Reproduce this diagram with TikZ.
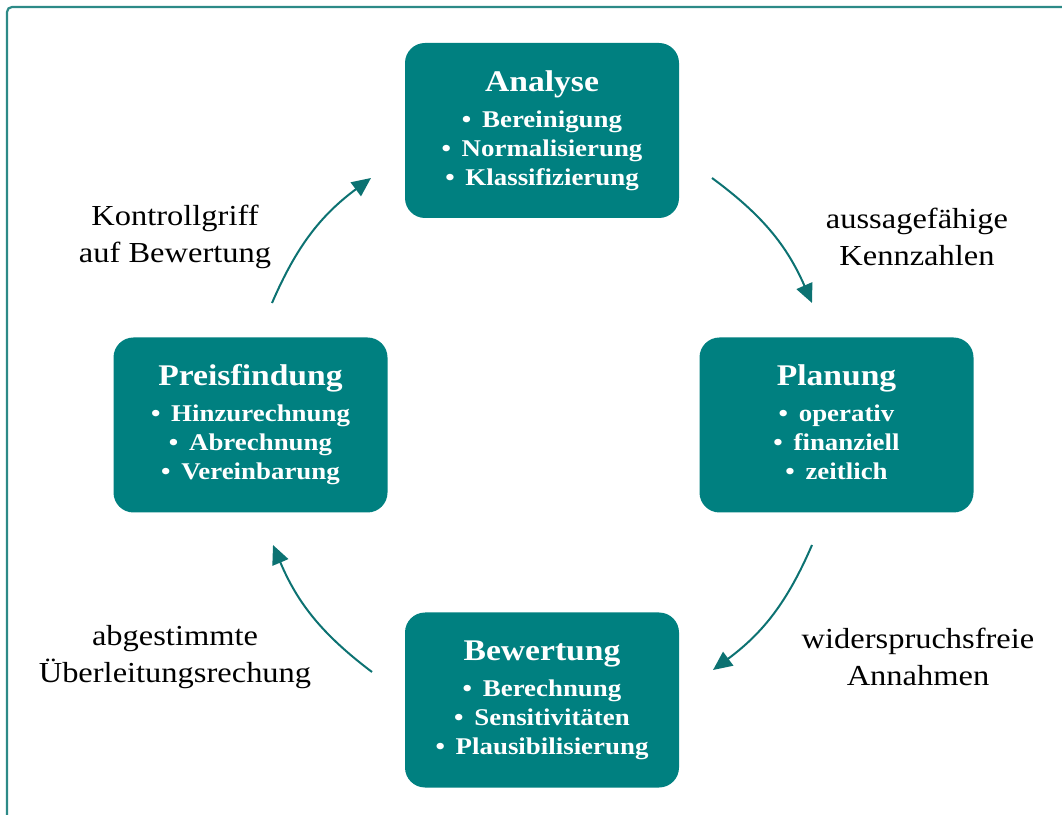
\documentclass[tikz,border=0pt]{standalone}
\usepackage{fontspec}
\setmainfont{Liberation Serif}[FakeStretch=1.12]
\usetikzlibrary{arrows.meta}

\definecolor{boxteal}{RGB}{0,128,128}
\definecolor{arrowteal}{RGB}{12,114,114}
\definecolor{frameteal}{RGB}{45,138,135}

\newcommand{\pt}{•\hspace{0.45em}}

\begin{document}
\begin{tikzpicture}[x=1pt, y=1pt,
    phase/.style={fill=boxteal, rounded corners=20pt, minimum width=274pt,
      minimum height=175pt, text=white, align=center, inner sep=0pt,
      font=\fontsize{24}{29}\selectfont\bfseries},
    remark/.style={align=center, font=\fontsize{29}{37}\selectfont},
    flow/.style={draw=arrowteal, line width=2pt,
      -{Triangle[length=19pt, width=17pt]}, bend left=15}]
  \clip (0,0) rectangle (1062,814);
  \draw[frameteal, line width=2.2pt, rounded corners=5pt] (7,-20) -- (7,807) -- (1080,807);

  % the four phases
  \node[phase] (analyse) at (542,683.5)
    {{\fontsize{30}{29}\selectfont Analyse}\\[7pt] \pt Bereinigung\\ \pt Normalisierung\\ \pt Klassifizierung};
  \node[phase] (planung) at (836.5,389)
    {{\fontsize{30}{29}\selectfont Planung}\\[7pt] \pt operativ\\ \pt finanziell\\ \pt zeitlich\vphantom{g}};
  \node[phase] (bewertung) at (542,114)
    {{\fontsize{30}{29}\selectfont Bewertung}\\[7pt] \pt Berechnung\\ \pt Sensitivitäten\\ \pt Plausibilisierung};
  \node[phase] (preis) at (250.5,389)
    {{\fontsize{30}{29}\selectfont Preisfindung}\\[7pt] \pt Hinzurechnung\\ \pt Abrechnung\\ \pt Vereinbarung};

  % labels between the phases
  \node[remark] (kennzahlen) at (917,577) {aussagefähige\\Kennzahlen};
  \node[remark] (annahmen) at (918,157) {widerspruchsfreie\\Annahmen};
  \node[remark] (ueberleitung) at (175,157) {abgestimmte\\Überleitungsrechung};
  \node[remark] (kontrolle) at (175,577) {Kontrollgriff\\auf Bewertung};

  % arrow ends
  \coordinate (a1) at (712,636);
  \coordinate (p1) at (812,511);
  \coordinate (a2) at (812,269);
  \coordinate (p2) at (713,144);
  \coordinate (a3) at (372,142);
  \coordinate (p3) at (273,269);
  \coordinate (a4) at (272,511);
  \coordinate (p4) at (371,636);

  \draw[flow] (a1) to (p1);
  \draw[flow] (a2) to (p2);
  \draw[flow] (a3) to (p3);
  \draw[flow] (a4) to (p4);
\end{tikzpicture}
\end{document}
